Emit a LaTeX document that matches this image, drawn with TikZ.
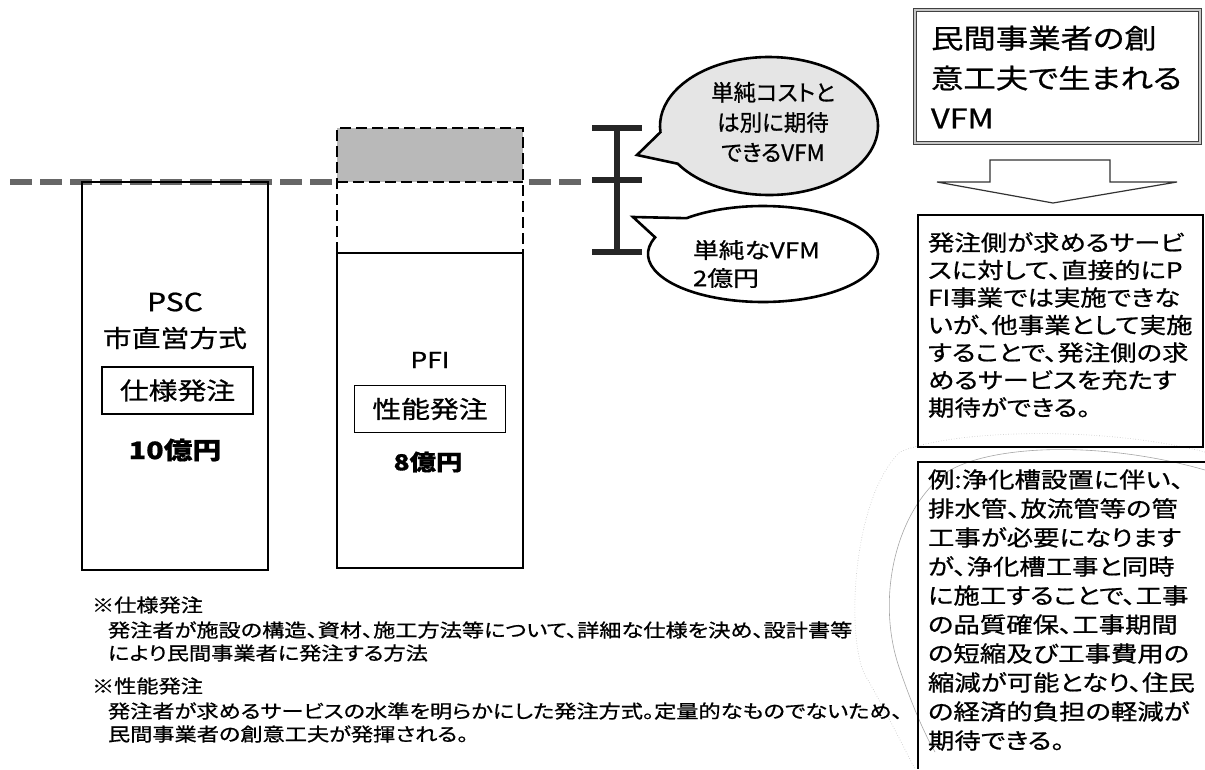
\documentclass[tikz,border=0pt]{standalone}
\usepackage{fontspec}
\usetikzlibrary{shapes.callouts}
\newfontfamily\jp[FakeStretch=1.2,FakeBold=0.8,RawFeature=+palt]{Noto Sans CJK JP}
\newfontfamily\jpn[FakeBold=0.8,RawFeature=+palt]{Noto Sans CJK JP}
\newcommand\fsz[2]{\fontsize{#1}{#2}\selectfont}
\tikzset{
  barline/.style={line width=2.6pt, black},
  pfidash/.style={line width=2.6pt, black, dash pattern=on 11pt off 5pt},
  levelline/.style={line width=6pt, black!60, dash pattern=on 22pt off 8pt},
  ibar/.style={line width=6pt, black!85},
  tagbox/.style={draw, line width=1.3pt, minimum width=151pt, minimum height=47pt, font=\jp\fsz{24}{28}},
  bubble/.style={ellipse callout, draw, line width=2.6pt, callout pointer arc=28},
  textbox/.style={draw, line width=1.5pt, anchor=north west},
  sketch/.style={gray!70, line width=0.6pt},
  notetext/.style={font=\jp\fsz{18.5}{23}, anchor=west, align=left},
}
\begin{document}
\begin{tikzpicture}[x=1pt,y=-1pt, every node/.style={inner sep=0pt, outer sep=0pt}]
\useasboundingbox (0,0) rectangle (1205,769);
\fill[white] (0,0) rectangle (1205,769);

% faint hand-drawn curves around the example box
\draw[sketch] (947,472) .. controls (990,445) and (1100,440) .. (1205,470);
\draw[sketch] (947,472) .. controls (895,510) and (875,600) .. (900,670) .. controls (912,705) and (925,735) .. (935,752);
\draw[sketch, gray!50, dotted] (1205,452) .. controls (1100,425) and (950,430) .. (900,452) .. controls (850,500) and (845,650) .. (868,680) .. controls (885,710) and (900,740) .. (915,769);

% level line
\draw[levelline] (10,182) -- (336,182);
\draw[levelline] (529,182) -- (586,182);

% PSC bar
\draw[barline] (82,182) rectangle (268,570);
% PFI bar
\fill[gray!55] (337,128) rectangle (523,182);
\draw[pfidash] (337,253) -- (337,128) -- (523,128) -- (523,253);
\draw[pfidash] (337,182) -- (523,182);
\draw[barline] (337,253) rectangle (523,568);

% I-bar
\draw[ibar] (617,128) -- (617,252);
\draw[ibar] (592,128) -- (642,128);
\draw[ibar] (592,180) -- (642,180);
\draw[ibar] (592,252) -- (642,252);

% bar labels
\node[font=\jp\fsz{25}{28}] (psc) at (175,302) {PSC};
\node[font=\jp\fsz{24}{28}] (pscmode) at (175,338) {市直営方式};
\node[tagbox] (spec) at (177.5,390.5) {仕様発注};
\node[font=\jp\bfseries\fsz{24}{28}] (psccost) at (175,450) {10億円};
\node[font=\jp\fsz{22}{26}] (pfi) at (430,360) {PFI};
\node[tagbox] (perf) at (430,409) {性能発注};
\node[font=\jp\bfseries\fsz{22}{26}] (pficost) at (428,462) {8億円};

% callouts
\coordinate (gtip) at (637,155);
\coordinate (wtip) at (633,217);
\node[bubble, fill=gray!20, minimum width=218pt, minimum height=138pt, callout absolute pointer={(gtip)}] (gbub) at (769,126) {};
\node[font=\jpn\fsz{22.5}{30}, align=center] (gtext) at (773,122) {単純コストと\\は別に期待\\できるVFM};
\node[bubble, fill=white, minimum width=230pt, minimum height=96pt, callout absolute pointer={(wtip)}] (wbub) at (763,254) {};
\node[font=\jp\fsz{21.5}{28}, align=left, anchor=west] (wtext) at (693,264) {単純なVFM\\2億円};

% right column
\node[draw=black!75, double=gray!45, double distance=2.5pt, line width=0.8pt, minimum width=285pt, minimum height=133pt] (vfmbox) at (1057.5,76.5) {};
\node[font=\jp\fsz{27}{40}, align=left, anchor=west] (vfmtext) at (931,77) {民間事業者の創\\意工夫で生まれる\\VFM};

\draw[gray!40!black, line width=1.2pt] (990,160) -- (1110,160) -- (1110,182) -- (1177,182) -- (1053,203) -- (937,182) -- (990,182) -- cycle;

\node[textbox, minimum width=285pt, minimum height=232pt] (svcbox) at (918,215) {};
\node[font=\jp\fsz{22}{27.5}, align=left, anchor=west] (svctext) at (928,325) {発注側が求めるサービ\\スに対して、直接的にP\\FI事業では実施できな\\いが、他事業として実施\\することで、発注側の求\\めるサービスを充たす\\期待ができる。};

\coordinate (exright) at (1205,462);
\coordinate (exbottom) at (918,769);
\draw[line width=1.5pt] (exright) -- (918,462) -- (exbottom);
\node[font=\jp\fsz{22}{29}, align=left, anchor=west] (extext) at (928,610) {例:浄化槽設置に伴い、\\排水管、放流管等の管\\工事が必要になります\\が、浄化槽工事と同時\\に施工することで、工事\\の品質確保、工事期間\\の短縮及び工事費用の\\縮減が可能となり、住民\\の経済的負担の軽減が\\期待できる。};

% notes
\node[notetext] (n1h) at (92,605) {※仕様発注};
\node[notetext] (n1b) at (108,641.5) {発注者が施設の構造、資材、施工方法等について、詳細な仕様を決め、設計書等\\により民間事業者に発注する方法};
\node[notetext] (n2h) at (92,686) {※性能発注};
\node[notetext] (n2b) at (108,722.5) {発注者が求めるサービスの水準を明らかにした発注方式。定量的なものでないため、\\民間事業者の創意工夫が発揮される。};
\end{tikzpicture}
\end{document}
